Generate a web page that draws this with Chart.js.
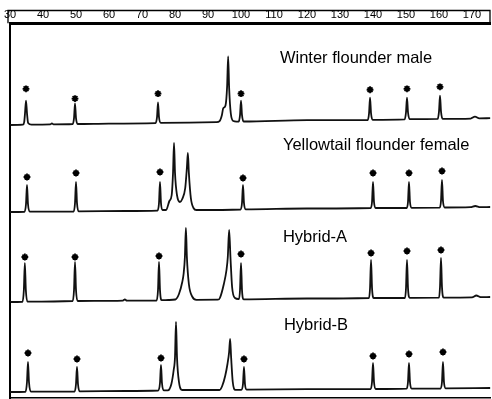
<!DOCTYPE html>
<html>
<head>
<meta charset="utf-8">
<script src="https://cdn.jsdelivr.net/npm/chart.js@4.4.1/dist/chart.umd.min.js"></script>
<style>
body { margin: 0; background: #fff; }
#wrap { position: relative; width: 492px; height: 399px; background: #fff; overflow: hidden; }
#wrap canvas { position: absolute; left: 0; }
</style>
</head>
<body>
<div id="wrap">
  <canvas id="ch1" width="492" height="126" style="top:0px"></canvas>
  <canvas id="ch2" width="492" height="89" style="top:125px"></canvas>
  <canvas id="ch3" width="492" height="90" style="top:213px"></canvas>
  <canvas id="ch4" width="492" height="97" style="top:302px"></canvas>
</div>
<script>
// size ruler (bp)
var sizeTicks = [30, 40, 50, 60, 70, 80, 90, 100, 110, 120, 130, 140, 150, 160, 170];

var panelNames = ['Winter flounder male', 'Yellowtail flounder female', 'Hybrid-A', 'Hybrid-B'];

// traces: [size, signal]
var traceWinter = [
  [30,0],[33.9,0.3],[34.3,3],[34.55,12],[34.85,25],[35.15,12],[35.5,2],[36.5,0.4],
  [42.2,0.6],[42.7,1.6],[43.2,0.6],
  [49,1],[49.4,7],[49.7,22],[50,7],[50.5,1],
  [60,1.5],[74.1,2],[74.55,8],[74.85,23],[75.15,8],[75.7,2.2],
  [92.6,3],[93.5,4],[94.2,10],[94.6,17],[95.3,20],[95.8,40],[96.1,70],[96.4,38],[96.9,12],[97.7,4],[98.6,3.4],
  [99.3,3.5],[99.7,10],[100,25],[100.3,10],[100.8,3.6],
  [120,5],[138.4,5],[138.8,12],[139.1,28],[139.4,12],[139.9,5.2],
  [149.6,5.7],[150,13],[150.3,28],[150.6,13],[151.1,6],
  [159.6,6.2],[160,14],[160.3,30],[160.6,14],[161.1,6.3],
  [169.6,6.6],[170.9,8.5],[172.2,6.8],[175.5,7]
];
var traceYellowtail = [
  [30,1],[34.4,1.2],[34.85,9],[35.15,28],[35.45,9],[36,1.3],
  [49.3,1.5],[49.7,10],[50,31],[50.3,10],[50.8,1.6],
  [65,2],[74.7,2.4],[75.15,10],[75.45,31],[75.75,10],[76.2,3],
  [77.3,3],[78.3,12],[79,18],[79.4,40],[79.7,70],[80,40],[80.6,18],[81.5,11],[82.2,14],[83.1,25],[83.6,45],[83.9,60],[84.2,40],[84.8,15],[85.6,5],[86.5,3],
  [99.9,3.5],[100.3,10],[100.6,28],[100.9,10],[101.4,3.6],
  [120,4.5],[139.3,5],[139.7,11],[140,31],[140.3,11],[140.8,5],
  [150.2,5],[150.6,11],[150.9,31],[151.2,11],[151.7,5.2],
  [160.2,5.3],[160.6,12],[160.9,33],[161.2,12],[161.7,5.5],
  [169.5,5.8],[171,7],[172.5,5.9],[175.5,6]
];
var traceHybridA = [
  [30,0],[33.8,0.2],[34.2,12],[34.5,39],[34.8,12],[35.3,0.3],
  [49,1],[49.4,12],[49.7,40],[50,12],[50.5,1],
  [60,1.2],[64.2,1.4],[64.8,2.6],[65.4,1.4],
  [74.4,1.5],[74.85,12],[75.15,40],[75.45,12],[76,1.8],[78,2],
  [80.1,2.5],[81.2,8],[82.2,20],[82.6,28],[83,45],[83.3,74],[83.6,45],[84.2,18],[85.3,5],[86.5,2.2],
  [93,2.3],[93.6,4],[94.8,18],[95.6,32],[96,45],[96.4,72],[96.8,45],[97.3,15],[98.2,4],[99.2,3],
  [99.4,3],[99.7,12],[100,39],[100.3,12],[100.8,2.6],
  [120,3.5],[138.8,4],[139.1,14],[139.4,42],[139.7,14],[140.2,4],
  [149.7,4],[150,14],[150.3,42],[150.6,14],[151.1,4.2],
  [160,4.3],[160.3,15],[160.6,44],[160.9,15],[161.4,4.4],
  [170,4.6],[171.3,6.5],[172.6,4.8],[175.5,5]
];
var traceHybridB = [
  [30,0],[34.7,0.2],[35.15,10],[35.45,30],[35.75,10],[36.3,0.3],
  [49.6,0.5],[50,8],[50.3,25],[50.6,8],[51.1,0.6],
  [65,1],[74.9,1.5],[75.45,9],[75.75,27],[76.05,9],[76.6,1.6],
  [77.8,1.6],[78.9,8],[79.6,22],[80,35],[80.3,70],[80.6,35],[81.2,10],[82.2,2],
  [93.5,2],[94.3,6],[95.2,16],[95.9,28],[96.4,40],[96.7,53],[97,35],[97.5,10],[98.3,2.2],
  [100.1,2.2],[100.6,8],[100.9,25],[101.2,8],[101.7,2.3],
  [120,2.8],[139.3,3],[139.7,10],[140,29],[140.3,10],[140.8,3],
  [150.2,3.4],[150.6,10],[150.9,29],[151.2,10],[151.7,3.4],
  [160.5,3.5],[160.9,10],[161.2,30],[161.5,10],[162,3.6],
  [175.5,4]
];

// size-standard markers (*)
var starsWinter = [[34.85,37],[49.7,27],[74.85,32],[100,32],[139.1,36],[150.3,37],[160.3,39]];
var starsYellowtail = [[35.15,36],[50,40],[75.45,41],[100.6,35],[140,40],[150.9,40],[160.9,42]];
var starsHybridA = [[34.5,45],[49.7,45],[75.15,46],[100,48],[139.4,49],[150.3,51],[160.6,52]];
var starsHybridB = [[35.45,39],[50.3,33],[75.75,34],[100.9,33],[140,36],[150.9,38],[161.2,40]];

var FONT = '"Liberation Sans", Arial, Helvetica, sans-serif';

function toXY(arr) {
  return arr.map(function (p) { return {x: p[0], y: p[1]}; });
}

// panel caption drawn at a data position
var panelLabel = {
  id: 'panelLabel',
  afterDatasetsDraw: function (chart, args, opts) {
    if (!opts.text) return;
    var ctx = chart.ctx;
    ctx.save();
    ctx.fillStyle = '#000';
    ctx.font = '16.5px ' + FONT;
    ctx.textAlign = 'left';
    ctx.textBaseline = 'middle';
    ctx.fillText(opts.text, chart.scales.x.getPixelForValue(opts.x), chart.scales.y.getPixelForValue(opts.y));
    ctx.restore();
  }
};

// box round the size ruler
var rulerFrame = {
  id: 'rulerFrame',
  afterDraw: function (chart, args, opts) {
    if (!opts.show) return;
    var ctx = chart.ctx, a = chart.chartArea;
    ctx.save();
    ctx.strokeStyle = '#000';
    ctx.lineWidth = 1.3;
    ctx.beginPath();
    ctx.moveTo(a.left - 2, a.top);
    ctx.lineTo(a.left - 2, 10.5);
    ctx.lineTo(a.right, 10.5);
    ctx.lineTo(a.right, a.top);
    ctx.stroke();
    ctx.restore();
  }
};

function makePanel(id, trace, stars, cfg) {
  var el = document.getElementById(id);
  return new Chart(el, {
    type: 'line',
    data: {
      datasets: [
        {
          data: toXY(trace),
          borderColor: '#111',
          borderWidth: 1.8,
          pointRadius: 0,
          fill: false,
          cubicInterpolationMode: 'monotone',
          clip: false
        },
        {
          data: toXY(stars),
          showLine: false,
          pointStyle: 'star',
          pointRadius: 3.4,
          pointBorderWidth: 1.8,
          pointBorderColor: '#000',
          pointBackgroundColor: '#000',
          clip: false
        }
      ]
    },
    options: {
      responsive: false,
      animation: false,
      layout: {padding: cfg.padding, autoPadding: false},
      scales: {
        x: {
          type: 'linear',
          position: cfg.xPos,
          min: 30,
          max: 175.45,
          display: cfg.xShow,
          afterBuildTicks: function (scale) {
            scale.ticks = sizeTicks.map(function (v) { return {value: v}; });
          },
          grid: {display: false, drawTicks: false},
          border: {display: true, color: '#000', width: cfg.xBorder},
          ticks: {
            display: cfg.xTicks,
            padding: 2,
            color: '#000',
            font: {family: FONT, size: 11},
            maxRotation: 0,
            autoSkip: false
          }
        },
        y: {
          min: cfg.yMin,
          max: cfg.yMax,
          grid: {display: false, drawTicks: false},
          border: {display: true, color: '#000', width: 2},
          ticks: {display: false}
        }
      },
      plugins: {
        legend: {display: false},
        tooltip: {enabled: false},
        panelLabel: cfg.label,
        rulerFrame: {show: cfg.ruler}
      }
    },
    plugins: [panelLabel, rulerFrame]
  });
}

makePanel('ch1', traceWinter, starsWinter, {
  padding: {top: 6, left: 10, right: 2, bottom: 1},
  xPos: 'top', xShow: true, xTicks: true, xBorder: 3, ruler: true,
  yMin: 0, yMax: 104,
  label: {text: panelNames[0], x: 111.8, y: 68}
});
makePanel('ch2', traceYellowtail, starsYellowtail, {
  padding: {top: 0, left: 10, right: 2, bottom: 1},
  xPos: 'bottom', xShow: false, xTicks: false, xBorder: 0, ruler: false,
  yMin: 0, yMax: 88,
  label: {text: panelNames[1], x: 112.7, y: 68}
});
makePanel('ch3', traceHybridA, starsHybridA, {
  padding: {top: 0, left: 10, right: 2, bottom: 1},
  xPos: 'bottom', xShow: false, xTicks: false, xBorder: 0, ruler: false,
  yMin: 0, yMax: 89,
  label: {text: panelNames[2], x: 112.7, y: 65}
});
makePanel('ch4', traceHybridB, starsHybridB, {
  padding: {top: 0, left: 10, right: 2, bottom: 1},
  xPos: 'bottom', xShow: true, xTicks: false, xBorder: 1.5, ruler: false,
  yMin: -6, yMax: 90,
  label: {text: panelNames[3], x: 113, y: 67}
});
</script>
</body>
</html>
